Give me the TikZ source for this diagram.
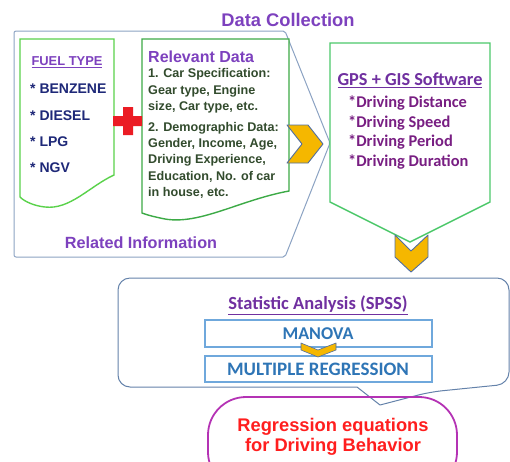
\documentclass[tikz,border=0pt]{standalone}
\usepackage{fontspec}
\setmainfont{Liberation Sans}
\newfontfamily\calibfont{Carlito}
\usetikzlibrary{positioning}
\definecolor{titlepurple}{RGB}{125,65,190}
\definecolor{navytext}{RGB}{30,40,120}
\definecolor{olivetext}{RGB}{50,75,45}
\definecolor{gpspurple}{RGB}{120,30,130}
\definecolor{spsspurple}{RGB}{112,48,160}
\definecolor{boxblue}{RGB}{46,117,182}
\definecolor{lightblue}{RGB}{111,168,220}
\definecolor{callgray}{RGB}{140,163,195}
\definecolor{calldark}{RGB}{100,130,170}
\definecolor{docgreen}{RGB}{90,210,75}
\definecolor{relgreen}{RGB}{60,170,70}
\definecolor{gpsgreen}{RGB}{76,200,106}
\definecolor{chevgold}{RGB}{245,183,0}
\definecolor{chevblue}{RGB}{80,110,160}
\definecolor{plusred}{RGB}{235,28,36}
\definecolor{ovalmag}{RGB}{180,50,180}
\definecolor{redtext}{RGB}{255,30,30}
\tikzset{doc box/.style={draw=docgreen,line width=1.4pt,fill=white},
	call box/.style={draw=callgray,line width=1pt,fill=white,line join=round},
	chevron/.style={draw=chevblue,fill=chevgold,line width=0.9pt,line join=round},
	step box/.style={draw=lightblue,line width=1.2pt,fill=white},
}

\begin{document}
\begin{tikzpicture}[x=1pt,y=-1pt,inner sep=0pt,
		arial node/.style={font=\bfseries\fontsize{#1}{#1}\selectfont},
		calib node/.style={font=\calibfont\bfseries\fontsize{#1}{#1}\selectfont}]
	\useasboundingbox (0,0) rectangle (510,461);
	\clip (0,0) rectangle (510,461);
	
	% data collection group
	\draw[call box,rounded corners=2pt] (14,31) -- (285,31) -- (330,143) -- (285,257) -- (14,257) -- cycle;
	\draw[doc box] (20,39) -- (114,39) -- (114,175) .. controls (90,186) and (70,210) .. (45,207) .. controls (35,206) and (25,202) .. (20,197) -- cycle;
	\draw[doc box,draw=relgreen] (142,39) -- (289,39) -- (289,191) .. controls (240,200) and (200,225) .. (165,219) .. controls (155,217) and (147,215) .. (142,213) -- cycle;
	\fill[plusred] (123,107) -- (133,107) -- (133,116) -- (142,116) -- (142,126) -- (133,126) -- (133,135) -- (123,135) -- (123,126) -- (113,126) -- (113,116) -- (123,116) -- cycle;
	\draw[chevron] (287,125) -- (308,125) -- (323,144) -- (308,163) -- (287,163) -- (302,144) -- cycle;
	
	\node[arial node=18.3,text=titlepurple] (collect) at (288,20) {Data Collection};
	\node[arial node=12.9,text=titlepurple] (fueltype) at (67,62) {\underline{FUEL TYPE}};
	\node[anchor=north west,align=left,text=navytext,
		font=\bfseries\fontsize{14}{26.3}\selectfont] (fuellist) at (30,84) {* BENZENE\\* DIESEL\\* LPG\\* NGV};
	\node[arial node=16,anchor=west,text=titlepurple] (relevant) at (148,57) {Relevant Data};
	\node[anchor=north west,align=left,text=olivetext,
		font=\bfseries\fontsize{12.6}{16.3}\selectfont] (reldata) at (148,68.5)
		{1. Car Specification:\\Gear type, Engine\\size, Car type, etc.\\[4.5pt]2. Demographic Data:\\Gender, Income, Age,\\Driving Experience,\\Education, No. of car\\in house, etc.};
	\node[arial node=16.2,text=titlepurple] (related) at (141,243) {Related Information};
	
	% gps box
	\draw[doc box,draw=gpsgreen] (330,43) -- (490,43) -- (490,202) -- (410,242) -- (330,202) -- cycle;
	\node[calib node=18.3,text=spsspurple] (gps) at (410,80) {\underline{GPS + GIS Software}};
	\node[anchor=north west,align=left,text=gpspurple,
		font=\calibfont\bfseries\fontsize{16.4}{19.7}\selectfont] (gpslist) at (348,95.5)
		{*Driving Distance\\*Driving Speed\\*Driving Period\\*Driving Duration};
	\draw[chevron] (395,235) -- (411,251) -- (428,235) -- (428,257) -- (411,272) -- (395,257) -- cycle;
	
	% analysis
	\draw[call box,draw=calldark] (300,278) [rounded corners=12pt] -- (509,278) -- (509,384) -- (430,392) [sharp corners] -- (380,405) -- (357,387) [rounded corners=12pt] -- (118,387) -- (118,278) -- (300,278);
	\node[calib node=18.5,text=spsspurple] (spss) at (318,305) {\underline{Statistic Analysis (SPSS)}};
	\draw[step box] (205,320) rectangle (432,347);
	\node[calib node=18,text=boxblue] (manova) at (318,334) {MANOVA};
	\draw[step box] (205,356) rectangle (432,382);
	\node[calib node=19,text=boxblue] (mreg) at (318,369) {MULTIPLE REGRESSION};
	\draw[chevron,line width=0.6pt] (301,343) -- (318,350) -- (336,343) -- (336,350) -- (318,357) -- (301,350) -- cycle;
	
	\draw[draw=ovalmag,line width=1.8pt,rounded corners=38pt] (208,397) rectangle (457,490);
	\node[align=center,text=redtext,font=\bfseries\fontsize{18.3}{20}\selectfont] (result) at (333,437)
		{Regression equations\\for Driving Behavior};
\end{tikzpicture}
\end{document}
